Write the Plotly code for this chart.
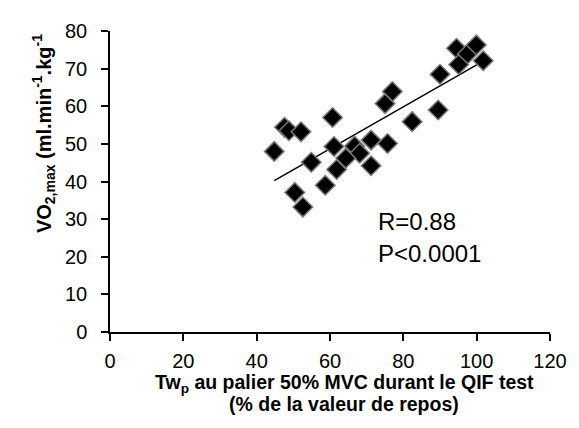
"""VO2max vs Twp scatter with linear trendline"""

import numpy as np
import plotly.graph_objects as go

# Data
twp_pct = [44.8, 47.6, 48.8, 52.1, 54.9, 50.4, 52.6, 60.7, 58.7,
           61.1, 66.7, 68.1, 64.3, 71.2, 75.7, 61.8, 71.2,
           77.0, 75.0, 82.4, 89.5,
           94.5, 97.4, 99.9, 95.1, 101.8, 90.0]
vo2max = [48.0, 54.4, 53.5, 53.2, 45.1, 37.1, 33.2, 57.0, 39.0,
          49.3, 49.4, 47.5, 46.2, 51.0, 50.1, 43.2, 44.2,
          63.9, 60.7, 55.9, 59.0,
          75.4, 73.8, 76.3, 71.1, 72.1, 68.5]
x_ticks = [0, 20, 40, 60, 80, 100, 120]
y_ticks = [0, 10, 20, 30, 40, 50, 60, 70, 80]
stats_lines = ["R=0.88", "P<0.0001"]

FONT = "Arial, Liberation Sans, sans-serif"

# linear fit (Excel-style trendline over the x span)
slope, intercept = np.polyfit(twp_pct, vo2max, 1)
fit_x = [min(twp_pct), max(twp_pct)]
fit_y = [slope * v + intercept for v in fit_x]

fig = go.Figure()

fig.add_trace(go.Scatter(
    x=fit_x, y=fit_y,
    mode='lines',
    line=dict(color='black', width=1.5),
    hoverinfo='skip'
))

fig.add_trace(go.Scatter(
    x=twp_pct, y=vo2max,
    mode='markers',
    marker=dict(symbol='diamond', size=15, color='black',
                line=dict(color='#777777', width=1.5))
))

# page body has an 8px margin, so the figure is a bit smaller than the window
fig.update_layout(
    width=571, height=420,
    margin=dict(l=102, r=22, t=16, b=96),
    plot_bgcolor='white',
    paper_bgcolor='white',
    showlegend=False,
    font=dict(family=FONT, color='black', size=20)
)

fig.update_xaxes(
    range=[0, 120], tickvals=x_ticks,
    showline=True, linecolor='black', linewidth=1.5,
    ticks='outside', ticklen=7, tickwidth=1.5, tickcolor='black',
    showgrid=False, zeroline=False,
    tickfont=dict(size=20), ticklabelstandoff=3
)
fig.update_yaxes(
    range=[0, 80], tickvals=y_ticks,
    showline=True, linecolor='black', linewidth=1.5,
    ticks='outside', ticklen=7, tickwidth=1.5, tickcolor='black',
    showgrid=False, zeroline=False,
    tickfont=dict(size=20), ticklabelstandoff=10
)

# axis titles
fig.add_annotation(
    text="<b>VO<sub>2,max</sub> (ml.min<sup>-1</sup>.kg<sup>-1</sup></b>",
    xref='paper', yref='paper', x=-0.188, y=0.66,
    textangle=-90, showarrow=False, font=dict(size=20)
)
fig.add_annotation(
    text="<b>Tw<sub>p</sub> au palier 50% MVC durant le QIF test</b>",
    xref='paper', yref='paper', x=0.532, y=-0.172, yanchor='middle',
    showarrow=False, font=dict(size=19.5)
)
fig.add_annotation(
    text="<b>(% de la valeur de repos)</b>",
    xref='paper', yref='paper', x=0.532, y=-0.24, yanchor='middle',
    showarrow=False, font=dict(size=19.5)
)

# statistics
fig.add_annotation(text=stats_lines[0], x=72.5, y=29.3, xanchor='left',
                   showarrow=False, font=dict(size=24))
fig.add_annotation(text=stats_lines[1], x=72.5, y=20.8, xanchor='left',
                   showarrow=False, font=dict(size=24))

fig.write_html("out.html")
